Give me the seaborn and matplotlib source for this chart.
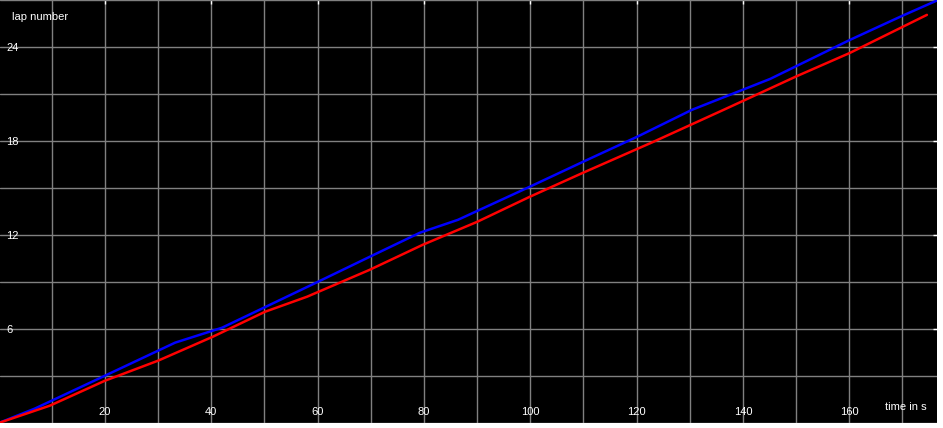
import matplotlib
matplotlib.use("Agg")
import matplotlib.pyplot as plt
from matplotlib.ticker import MultipleLocator
import pandas as pd
import seaborn as sns

# lap number vs time
blue_time = [0, 6.8, 20.0, 33.2, 42.0, 60.1, 69.8, 79.2, 86.4, 99.9, 109.9,
             120.1, 130.4, 145.1, 160.1, 169.9, 176.7]
blue_lap = [0, 0.92, 3.02, 5.13, 6.08, 9.02, 10.61, 12.14, 12.97, 15.08, 16.67,
            18.27, 19.99, 21.96, 24.45, 25.98, 27.0]
red_time = [0, 9.65, 20.0, 30.0, 40.3, 50.1, 58.0, 69.8, 79.8, 90.0, 99.9,
            109.9, 123.1, 136.3, 150.2, 160.1, 174.6]
red_lap = [0, 1.11, 2.70, 3.98, 5.51, 7.10, 8.06, 9.78, 11.38, 12.84, 14.44,
           15.97, 17.94, 19.98, 22.15, 23.62, 26.05]

x_ticks = [20, 40, 60, 80, 100, 120, 140, 160]
y_ticks = [6, 12, 18, 24]

sns.set_style("dark")
plt.rcParams["font.family"] = ["Liberation Sans", "DejaVu Sans"]

df = pd.concat([
    pd.DataFrame({"time": blue_time, "lap": blue_lap, "run": "blue"}),
    pd.DataFrame({"time": red_time, "lap": red_lap, "run": "red"}),
])

fig = plt.figure(figsize=(9.43, 4.28), dpi=100, facecolor="white")
ax = fig.add_axes([0, 5 / 428, 937 / 943, 423 / 428])
ax.set_facecolor("black")

sns.lineplot(data=df, x="time", y="lap", hue="run", sort=False, estimator=None,
             palette={"blue": "#0000ff", "red": "#ff0000"}, linewidth=1.8,
             legend=False, ax=ax)

ax.set_xlim(0.25, 176.5)
ax.set_ylim(0, 27)
ax.set_xticks(x_ticks)
ax.set_yticks(y_ticks)
ax.xaxis.set_minor_locator(MultipleLocator(10))
ax.yaxis.set_minor_locator(MultipleLocator(3))
ax.grid(True, which="both", color="#808080", linewidth=1.0)
ax.set_axisbelow(True)
for s in ax.spines.values():
    s.set_visible(False)

ax.tick_params(which="major", direction="in", length=3, width=1, color="white",
               labelcolor="white", labelsize=8, top=True, right=True,
               pad=-4.5)
ax.tick_params(which="minor", length=0)
for lab in ax.get_yticklabels():
    lab.set_horizontalalignment("left")
for lab in ax.get_xticklabels():
    lab.set_verticalalignment("bottom")
ax.set_xlabel("")
ax.set_ylabel("")

# axis captions placed in pixels (origin bottom-left)
ax.text(12, 428 - 17.5, "lap number", transform=None, color="white",
        fontsize=8, va="center", ha="left")
ax.text(885, 428 - 407.5, "time in s", transform=None, color="white",
        fontsize=8, va="center", ha="left")

fig.savefig("out.png", dpi=100, facecolor="white")
